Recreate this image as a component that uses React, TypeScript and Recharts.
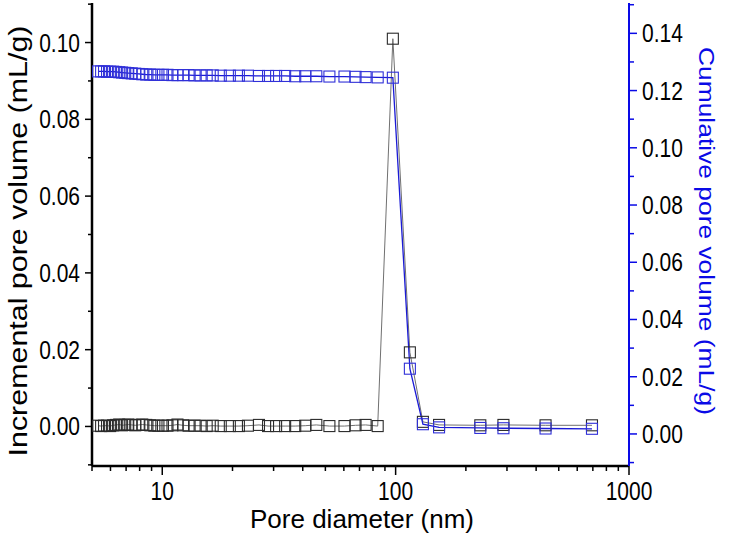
import React from 'react';
import { ComposedChart, Line, XAxis, YAxis, Label } from 'recharts';

// pore diameter (nm)
const diameters = [
  5.31, 5.47, 5.63, 5.8, 5.98, 6.16, 6.34, 6.54, 6.73, 6.94, 7.15, 7.4, 7.66, 7.93, 8.21, 8.54, 8.89, 9.25,
  9.63, 10.07, 10.53, 11.06, 11.62, 12.28, 12.97, 13.76, 14.6, 15.5, 16.45, 17.81, 19.48, 21.3, 23.29, 25.97,
  28.4, 30.75, 33.62, 37.14, 41.0, 45.73, 52.03, 60.37, 67.33, 74.37, 83.78, 97.3, 115.1, 130.9, 153.5, 230.6,
  289.7, 439, 694,
];

// incremental pore volume (mL/g)
const incremental = [
  0.0002, 0.0001, 0.0002, 0.0002, 0.0001, 0.0003, 0.0004, 0.0005, 0.0003, 0.0004, 0.0005, 0.0004, 0.0003, 0.0004,
  0.0005, 0.0004, 0.0003, 0.0002, 0.0002, 0.0002, 0.0002, 0.0003, 0.0005, 0.0003, 0.0002, 0.0002, 0.0002, 0.0001,
  0.0002, 0.0001, 0.0001, 0.0001, 0.0002, 0.0004, 0.0001, 0.0001, 0.0001, 0.0001, 0.0002, 0.0004, 0.0001, 0.0001,
  0.0003, 0.0004, 0.0001, 0.101, 0.0193, 0.0012, 0.0004, 0.0003, 0.0004, 0.0003, 0.0003,
];

// cumulative pore volume (mL/g)
const cumulative = [
  0.1267, 0.1267, 0.1267, 0.1266, 0.1266, 0.1266, 0.1265, 0.1264, 0.1263, 0.1262, 0.1261, 0.126, 0.1259, 0.1258,
  0.1257, 0.1256, 0.1256, 0.1255, 0.1255, 0.1255, 0.1255, 0.1254, 0.1254, 0.1254, 0.1254, 0.1253, 0.1253, 0.1253,
  0.1253, 0.1252, 0.1252, 0.1252, 0.1252, 0.1251, 0.1251, 0.1251, 0.1251, 0.125, 0.125, 0.125, 0.1249, 0.1249,
  0.1248, 0.1247, 0.1246, 0.1245, 0.0228, 0.0034, 0.0023, 0.0021, 0.002, 0.0019, 0.0018,
];

const xMajor = [10, 100, 1000];
const xMinor = [5, 6, 7, 8, 9, 20, 30, 40, 50, 60, 70, 80, 90, 200, 300, 400, 500, 600, 700, 800, 900];
const leftTicks = [-0.01, 0, 0.01, 0.02, 0.03, 0.04, 0.05, 0.06, 0.07, 0.08, 0.09, 0.1, 0.11];
const rightTicks = [-0.01, 0, 0.01, 0.02, 0.03, 0.04, 0.05, 0.06, 0.07, 0.08, 0.09, 0.1, 0.11, 0.12, 0.13, 0.14, 0.15];

const data = diameters.map((d, i) => ({ d, inc: incremental[i], cum: cumulative[i] }));

const FONT = '"Liberation Sans", Arial, sans-serif';
const BLUE = '#0a0ae6';
const STRETCH = 1.2;

const isEven = (v: number) => Math.round(v * 100) % 2 === 0;

const XTick = (props: any) => {
  const { x, y, payload } = props;
  const v = payload.value;
  const major = xMajor.includes(v);
  return (
    <g>
      <line x1={x} x2={x} y1={y} y2={y + (major ? 9 : 5)} stroke="#000" strokeWidth={1.5} />
      {major && (
        <text transform={`translate(${x},${y + 34}) scale(1,${STRETCH})`} textAnchor="middle" fontSize={21} fontFamily={FONT} fill="#000">
          {v}
        </text>
      )}
    </g>
  );
};

const LeftTick = (props: any) => {
  const { x, y, payload } = props;
  const major = isEven(payload.value);
  return (
    <g>
      <line x1={x} x2={x - (major ? 7 : 4)} y1={y} y2={y} stroke="#000" strokeWidth={1.5} />
      {major && (
        <text transform={`translate(${x - 12},${y + 9}) scale(1,${STRETCH})`} textAnchor="end" fontSize={21} fontFamily={FONT} fill="#000">
          {payload.value.toFixed(2)}
        </text>
      )}
    </g>
  );
};

const RightTick = (props: any) => {
  const { x, y, payload } = props;
  const major = isEven(payload.value);
  return (
    <g>
      <line x1={x} x2={x + (major ? 8 : 5)} y1={y} y2={y} stroke={BLUE} strokeWidth={1.5} />
      {major && (
        <text transform={`translate(${x + 13},${y + 9}) scale(1,${STRETCH})`} textAnchor="start" fontSize={21} fontFamily={FONT} fill="#000">
          {payload.value.toFixed(2)}
        </text>
      )}
    </g>
  );
};

const blackSquare = (p: any) => (
  <rect key={`inc-${p.index}`} x={p.cx - 5.5} y={p.cy - 5.5} width={11} height={11} fill="none" stroke="#2b2b2b" strokeWidth={1.1} />
);

const blueSquare = (p: any) => (
  <rect key={`cum-${p.index}`} x={p.cx - 5.5} y={p.cy - 5.5} width={11} height={11} fill="none" stroke="#3030d8" strokeWidth={1.1} />
);

export default function App() {
  return (
    <div style={{ position: 'absolute', left: 0, top: 0, width: 732, height: 535, background: '#fff' }}>
      <ComposedChart width={732} height={535} data={data} margin={{ top: 3, right: 0, bottom: 0, left: 0 }}>
        <XAxis
          dataKey="d"
          type="number"
          scale="log"
          domain={[5, 1000]}
          allowDataOverflow
          ticks={[...xMinor, ...xMajor].sort((a, b) => a - b)}
          interval={0}
          tickSize={0}
          tickMargin={0}
          tick={<XTick />}
          height={69}
          axisLine={{ stroke: '#000', strokeWidth: 2.5 }}
        >
          <Label
            content={() => (
              <text x={362} y={528} textAnchor="middle" fontSize={26} fontFamily={FONT} fill="#000">
                Pore diameter (nm)
              </text>
            )}
          />
        </XAxis>
        <YAxis
          yAxisId="left"
          type="number"
          domain={[-0.0103, 0.1103]}
          allowDataOverflow
          ticks={leftTicks}
          interval={0}
          tickSize={0}
          tickMargin={0}
          tick={<LeftTick />}
          width={92}
          axisLine={{ stroke: '#000', strokeWidth: 2.5 }}
        >
          <Label
            content={() => (
              <text transform={`translate(27,241) scale(1,1.17) rotate(-90)`} textAnchor="middle" fontSize={26} fontFamily={FONT} fill="#000">
                Incremental pore volume (mL/g)
              </text>
            )}
          />
        </YAxis>
        <YAxis
          yAxisId="right"
          orientation="right"
          type="number"
          domain={[-0.0112, 0.1506]}
          allowDataOverflow
          ticks={rightTicks}
          interval={0}
          tickSize={0}
          tickMargin={0}
          tick={<RightTick />}
          width={103}
          axisLine={{ stroke: BLUE, strokeWidth: 2 }}
        >
          <Label
            content={() => (
              <text transform={`translate(699,231) scale(1,1.2) rotate(90)`} textAnchor="middle" fontSize={22} fontFamily={FONT} fill={BLUE}>
                Cumulative pore volume (mL/g)
              </text>
            )}
          />
        </YAxis>
        <Line
          yAxisId="left"
          dataKey="inc"
          type="linear"
          stroke="#707070"
          strokeWidth={1}
          dot={blackSquare}
          activeDot={false}
          isAnimationActive={false}
        />
        <Line
          yAxisId="right"
          dataKey="cum"
          type="linear"
          stroke="#1a1ad6"
          strokeWidth={1.3}
          dot={blueSquare}
          activeDot={false}
          isAnimationActive={false}
        />
      </ComposedChart>
    </div>
  );
}
